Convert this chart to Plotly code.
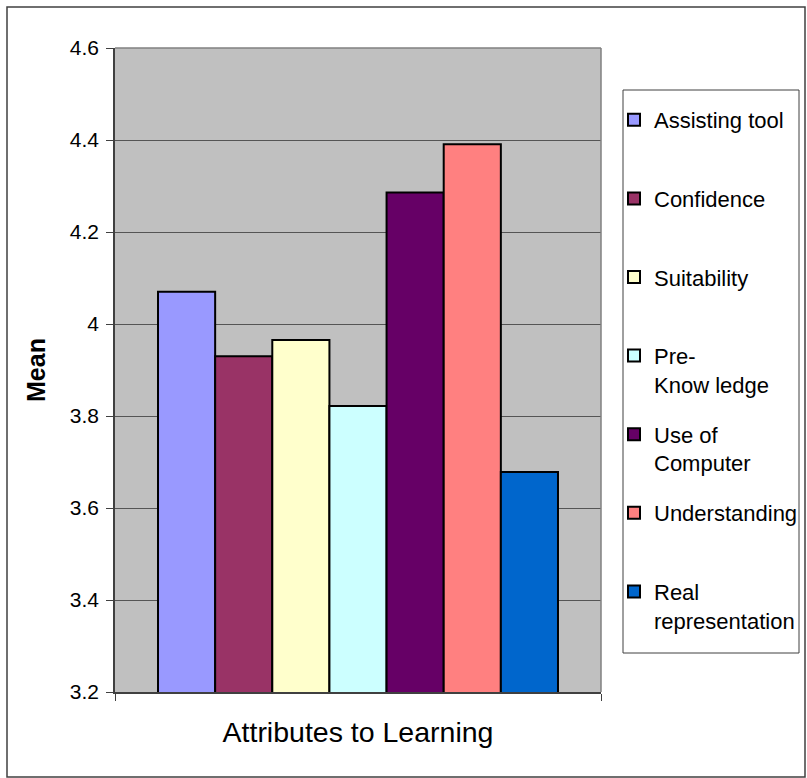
import plotly.graph_objects as go

category = ["Attributes to Learning"]
series_names = [
    "Assisting tool",
    "Confidence",
    "Suitability",
    "Pre-<br>Know ledge",
    "Use of<br>Computer",
    "Understanding",
    "Real<br>representation",
]
series_means = [4.07, 3.93, 3.965, 3.822, 4.286, 4.391, 3.678]
series_colors = ["#9999FF", "#993366", "#FFFFCC", "#CCFFFF", "#660066", "#FF8080", "#0066CC"]

FONT = "Arial, Liberation Sans, sans-serif"
W, H = 807, 778
L, R, T, B = 115, 601, 48, 692  # plot area in pixels


def px_x(p):
    return (p - L) / (R - L)


def px_y(p):
    return (B - p) / (B - T)


fig = go.Figure()
for name, mean, color in zip(series_names, series_means, series_colors):
    label = name if "<br>" in name else name + "<br>\u00a0"
    fig.add_trace(
        go.Bar(
            x=category,
            y=[mean],
            name=label,
            legendgroup=name,
            marker=dict(color=color, line=dict(color="black", width=2)),
        )
    )

fig.update_layout(
    width=W,
    height=H,
    margin=dict(l=L, r=W - R, t=T, b=H - B, pad=0, autoexpand=False),
    paper_bgcolor="white",
    plot_bgcolor="#C0C0C0",
    font=dict(family=FONT, color="black", size=21),
    barmode="group",
    bargap=0.177,
    bargroupgap=0,
    showlegend=True,
    legend=dict(
        x=px_x(614),
        y=px_y(99),
        xanchor="left",
        yanchor="top",
        font=dict(size=22, family=FONT),
        bgcolor="rgba(0,0,0,0)",
        borderwidth=0,
        traceorder="grouped",
        tracegroupgap=18.4,
        valign="top",
    ),
    xaxis=dict(
        type="category",
        showticklabels=False,
        ticks="outside",
        tickson="boundaries",
        ticklen=7,
        tickcolor="#404040",
        showline=True,
        linecolor="#404040",
        linewidth=1.5,
        showgrid=False,
        title=dict(text="Attributes to Learning", font=dict(size=28.5), standoff=29),
    ),
    yaxis=dict(
        range=[3.2, 4.6],
        tick0=3.2,
        dtick=0.2,
        ticks="outside",
        ticklen=7,
        tickcolor="#404040",
        ticklabelstandoff=3,
        showline=True,
        linecolor="#404040",
        linewidth=1.5,
        showgrid=True,
        gridcolor="#555555",
        gridwidth=1,
        zeroline=False,
        title=dict(text="<b>Mean</b>", font=dict(size=25), standoff=17),
    ),
    shapes=[
        # plot area border (top and right)
        dict(type="line", xref="paper", yref="paper", x0=0, x1=1, y0=1, y1=1,
             line=dict(color="#808080", width=1.5)),
        dict(type="line", xref="paper", yref="paper", x0=1, x1=1, y0=0, y1=1,
             line=dict(color="#808080", width=1.5)),
        # legend box
        dict(type="rect", xref="paper", yref="paper",
             x0=px_x(623), x1=px_x(799), y0=px_y(653), y1=px_y(90),
             line=dict(color="#404040", width=1)),
        # chart border
        dict(type="rect", xref="paper", yref="paper",
             x0=px_x(7), x1=px_x(805), y0=px_y(777), y1=px_y(7),
             line=dict(color="#404040", width=1.5)),
    ],
)

fig.write_html(
    "out.html",
    config={"displayModeBar": False},
    post_script="document.body.style.margin = '0';",
)
